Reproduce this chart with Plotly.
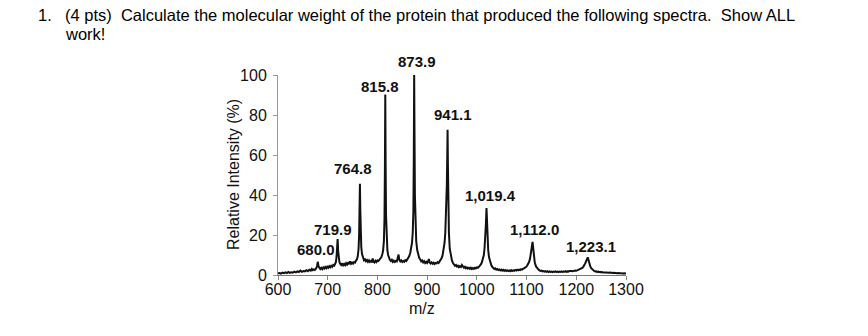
import plotly.graph_objects as go

# ---------------- data ----------------
mz = [
    600, 603, 606, 609, 612, 615, 618, 621, 624, 627, 630, 633, 636, 639, 642, 645, 648, 651, 654, 657,
    660, 663, 666, 668, 670, 672, 674, 676, 677, 678.5, 679.5, 680, 680.6, 681.5, 683, 685,
    687, 689, 691, 693, 695, 697, 699, 701, 703, 705, 707, 709, 711, 713, 715, 716.5, 717.8, 718.8,
    719.4, 719.9, 720.4, 721, 722, 723.5, 725,
    727, 729, 731, 733, 735, 737, 739, 741, 743, 745, 747, 749, 751, 753, 755, 757, 759, 760.5, 762,
    763.2, 764, 764.8, 765.5, 766.3, 767.5, 769, 771, 773, 775,
    777, 779, 781, 783, 785, 787, 789, 790.5, 792, 794, 796, 798, 800, 802, 804, 806, 808, 810, 811.5,
    813, 814.2, 815, 815.8, 816.5, 817.3, 818.5, 820, 821.5, 823, 825,
    827, 829, 831, 833, 835, 837, 839, 841, 842.5, 844, 846, 848, 850, 852, 854, 856, 858, 860, 862,
    864, 866, 868, 869.5, 871, 872.3, 873.2, 873.9, 874.6, 875.4, 876.5, 878, 880, 882, 884, 886,
    888, 890, 892, 894, 896, 898, 900, 902, 903.5, 905, 907, 909, 911, 913, 915, 917, 919, 921, 923,
    925, 927, 929, 931, 933, 935, 936.5, 938, 939.6, 940.5, 941.1, 941.8, 942.6, 943.8, 945.5, 947.5,
    950, 952,
    954, 956, 958, 960, 962, 964, 966, 968, 970, 972, 974, 976, 978, 980, 982, 984, 986, 988, 990, 992,
    994, 996, 998, 1000, 1002, 1004, 1006, 1008, 1010, 1012, 1014, 1015.5, 1017, 1018.3, 1019.4,
    1020.3, 1021.3, 1022.8, 1024.5, 1026.5, 1029, 1031,
    1033, 1035, 1037, 1039, 1041, 1043, 1045, 1047, 1049, 1051, 1053, 1055, 1057, 1059, 1061, 1063,
    1065, 1067, 1069, 1071, 1073, 1075, 1077, 1079, 1081, 1083, 1085, 1087, 1089, 1091, 1093, 1095,
    1097, 1099, 1101, 1103, 1105, 1107, 1108.8, 1110.5, 1112, 1113.2, 1114.5, 1116.5, 1119, 1121.5, 1124,
    1126, 1128, 1130, 1132, 1134, 1136, 1138, 1140, 1142, 1144, 1146, 1148, 1150, 1152, 1154, 1156,
    1158, 1160, 1162, 1164, 1166, 1168, 1170, 1172, 1174, 1176, 1178, 1180, 1182, 1184, 1186, 1188,
    1190, 1192, 1194, 1196, 1198, 1200, 1202, 1204, 1206, 1208, 1210, 1212, 1214, 1216, 1218, 1220,
    1221.8, 1223.1, 1224.5, 1226, 1228, 1230, 1232, 1234,
    1236, 1238, 1240, 1242, 1244, 1246, 1248, 1250, 1252, 1254, 1256, 1258, 1260, 1262, 1264, 1266,
    1268, 1270, 1272, 1274, 1276, 1278, 1280, 1282, 1284, 1286, 1288, 1290, 1292, 1294, 1296, 1298, 1300,
]
intensity = [
    0.8, 1.0, 0.7, 1.2, 0.9, 1.3, 1.0, 1.5, 1.1, 1.4, 1.2, 1.7, 1.3, 1.8, 1.5, 2.2, 1.6, 2.0, 1.8, 2.4,
    1.9, 2.6, 2.2, 3.0, 2.4, 2.8, 2.5, 3.0, 3.4, 4.5, 6.0, 6.6, 5.8, 4.3, 3.4, 3.0,
    3.6, 2.9, 3.8, 3.2, 4.0, 3.4, 4.2, 3.6, 4.4, 3.8, 4.6, 4.1, 5.0, 4.6, 5.6, 6.5, 9.0, 13.0,
    16.0, 18.0, 15.5, 12.0, 8.5, 6.5, 5.6,
    5.0, 5.8, 4.8, 5.5, 4.9, 5.9, 5.2, 6.0, 5.4, 6.8, 5.6, 6.2, 5.7, 6.5, 6.2, 7.2, 8.0, 9.5, 13.0,
    20.0, 32.0, 45.6, 33.0, 21.0, 14.0, 10.5, 8.6, 7.4, 7.8,
    6.9, 7.5, 6.6, 7.3, 6.5, 7.0, 6.4, 8.3, 6.6, 6.2, 7.1, 6.5, 7.3, 7.0, 7.8, 8.2, 9.0, 10.5, 12.5,
    17.0, 28.0, 52.0, 90.3, 55.0, 30.0, 18.0, 12.5, 10.0, 8.6, 7.6,
    7.0, 7.6, 6.6, 7.2, 6.5, 7.0, 6.8, 8.6, 10.2, 7.6, 6.8, 7.3, 6.5, 7.0, 6.6, 7.4, 7.0, 7.8, 8.6,
    9.5, 11.0, 13.0, 16.0, 21.0, 32.0, 60.0, 100.0, 70.0, 40.0, 25.0, 17.0, 12.5, 10.0, 8.6, 7.8,
    6.8, 7.3, 6.3, 6.9, 6.0, 6.6, 6.0, 6.8, 8.0, 6.2, 5.7, 6.3, 5.6, 6.1, 5.5, 6.0, 5.8, 6.4, 6.0,
    6.8, 7.5, 8.4, 9.8, 12.5, 16.0, 21.0, 30.0, 45.0, 60.0, 72.6, 55.0, 34.0, 21.0, 13.0, 9.5,
    7.2, 6.0,
    5.2, 4.6, 5.0, 4.2, 4.6, 3.9, 4.4, 4.0, 5.0, 4.0, 3.6, 4.1, 3.4, 3.8, 3.2, 3.6, 3.1, 3.6, 3.0, 3.5,
    3.1, 3.6, 3.3, 3.8, 3.6, 4.1, 4.5, 5.3, 6.2, 7.6, 10.0, 13.5, 19.0, 26.0, 33.5,
    27.0, 19.0, 12.5, 8.8, 6.5, 5.0, 4.1,
    3.4, 3.0, 3.3, 2.7, 3.0, 2.5, 2.8, 2.3, 2.7, 2.2, 2.6, 2.1, 2.5, 2.0, 2.4, 2.0,
    2.3, 1.9, 2.4, 2.0, 2.3, 2.1, 2.5, 2.2, 2.6, 2.3, 2.7, 2.5, 2.9, 2.7, 3.1, 3.3,
    3.6, 4.0, 4.6, 5.4, 6.5, 8.2, 10.5, 14.0, 16.6, 13.5, 9.5, 6.2, 4.3, 3.3, 2.7,
    2.3, 2.0, 2.2, 1.8, 2.0, 1.7, 1.9, 1.6, 1.9, 1.5, 1.8, 1.5, 1.7, 1.4, 1.7, 1.5,
    1.8, 1.5, 1.7, 1.4, 1.7, 1.5, 1.8, 1.5, 1.7, 1.6, 1.9, 1.6, 1.8, 1.7, 2.0, 1.8,
    2.0, 1.9, 2.1, 2.0, 2.2, 2.1, 2.3, 2.4, 2.6, 2.8, 3.1, 3.5, 4.1, 4.8, 5.8, 7.0,
    8.2, 8.8, 7.6, 5.9, 4.4, 3.4, 2.8, 2.4,
    2.0, 1.8, 1.9, 1.5, 1.7, 1.4, 1.6, 1.3, 1.5, 1.2, 1.4, 1.2, 1.3, 1.1, 1.3, 1.1,
    1.2, 1.0, 1.2, 1.0, 1.1, 0.9, 1.1, 0.9, 1.0, 0.9, 1.0, 0.8, 0.9, 0.8, 0.9, 0.8, 0.8,
]

peak_mz = [680.0, 719.9, 764.8, 815.8, 873.9, 941.1, 1019.4, 1112.0, 1223.1]
peak_height = [6.6, 18.0, 45.6, 90.3, 100.0, 72.6, 33.5, 16.6, 8.8]
peak_labels = ["680.0", "719.9", "764.8", "815.8", "873.9", "941.1", "1,019.4", "1,112.0", "1,223.1"]

x_ticks = [600, 700, 800, 900, 1000, 1100, 1200, 1300]
y_ticks = [0, 20, 40, 60, 80, 100]

question_number = "1."
question_line1 = "(4 pts)\u00a0 Calculate the molecular weight of the protein that produced the following spectra.\u00a0 Show ALL"
question_line2 = "work!"
x_title = "m/z"
y_title = "Relative Intensity (%)"

# ---------------- layout / style ----------------
W, H = 868, 336
L, R, T, B = 278, 242, 75, 61
PW, PH = W - L - R, H - T - B
FONT = "Liberation Sans, Arial, Helvetica, sans-serif"

def px_x(px):
    return (px - L) / PW

def px_y(py):
    return (H - B - py) / PH

# pixel offsets of each peak label relative to its peak top (dx, dy up)
label_dx = [-1.5, -5, -7.4, -5, 3, 5, 4.4, 1.5, 3.3]
label_dy = [12, 10, 15.5, 7.6, 14, 15, 13, 12.5, 10.7]

fig = go.Figure()
fig.add_trace(go.Scatter(
    x=mz, y=intensity, mode="lines",
    line=dict(color="#111111", width=2),
    cliponaxis=False, hoverinfo="skip", showlegend=False,
))

annotations = []
for xm, yh, txt, dx, dy in zip(peak_mz, peak_height, peak_labels, label_dx, label_dy):
    annotations.append(dict(
        x=xm, y=yh, xref="x", yref="y", text=txt, showarrow=False,
        xanchor="center", yanchor="middle", xshift=dx, yshift=dy,
        font=dict(family=FONT, size=15, color="#111111", weight="bold"),
    ))

annotations += [
    dict(x=px_x(36), y=px_y(15), xref="paper", yref="paper", text=question_number,
         showarrow=False, xanchor="left", yanchor="middle",
         font=dict(family=FONT, size=16.5, color="#000000")),
    dict(x=px_x(63), y=px_y(15), xref="paper", yref="paper", text=question_line1,
         showarrow=False, xanchor="left", yanchor="middle",
         font=dict(family=FONT, size=16.5, color="#000000")),
    dict(x=px_x(63), y=px_y(34), xref="paper", yref="paper", text=question_line2,
         showarrow=False, xanchor="left", yanchor="middle",
         font=dict(family=FONT, size=16.5, color="#000000")),
    dict(x=px_x(421.7), y=px_y(308), xref="paper", yref="paper", text=x_title,
         showarrow=False, xanchor="center", yanchor="middle",
         font=dict(family=FONT, size=16, color="#111111")),
    dict(x=px_x(233), y=0.5, xref="paper", yref="paper", text=y_title, textangle=-90,
         showarrow=False, xanchor="center", yanchor="middle",
         font=dict(family=FONT, size=16, color="#111111")),
]

fig.update_layout(
    width=W, height=H,
    margin=dict(l=L, r=R, t=T, b=B, pad=0),
    paper_bgcolor="white", plot_bgcolor="white",
    font=dict(family=FONT, size=16, color="#111111"),
    annotations=annotations,
    showlegend=False,
)
fig.update_xaxes(
    range=[x_ticks[0], x_ticks[-1]], tickvals=x_ticks, ticktext=[str(v) for v in x_ticks],
    showgrid=False, zeroline=False, showline=True, linecolor="#777777", linewidth=1,
    ticks="outside", ticklen=4, tickcolor="#888888", tickwidth=1,
    ticklabelstandoff=-4,
    tickfont=dict(family=FONT, size=16, color="#111111"),
)
fig.update_yaxes(
    range=[y_ticks[0], y_ticks[-1]], tickvals=y_ticks, ticktext=[str(v) for v in y_ticks],
    showgrid=False, zeroline=False, showline=True, linecolor="#999999", linewidth=1,
    ticks="outside", ticklen=4, tickcolor="#999999", tickwidth=1,
    ticklabelstandoff=3,
    tickfont=dict(family=FONT, size=16, color="#111111"),
)

fig.write_html("out.html")
